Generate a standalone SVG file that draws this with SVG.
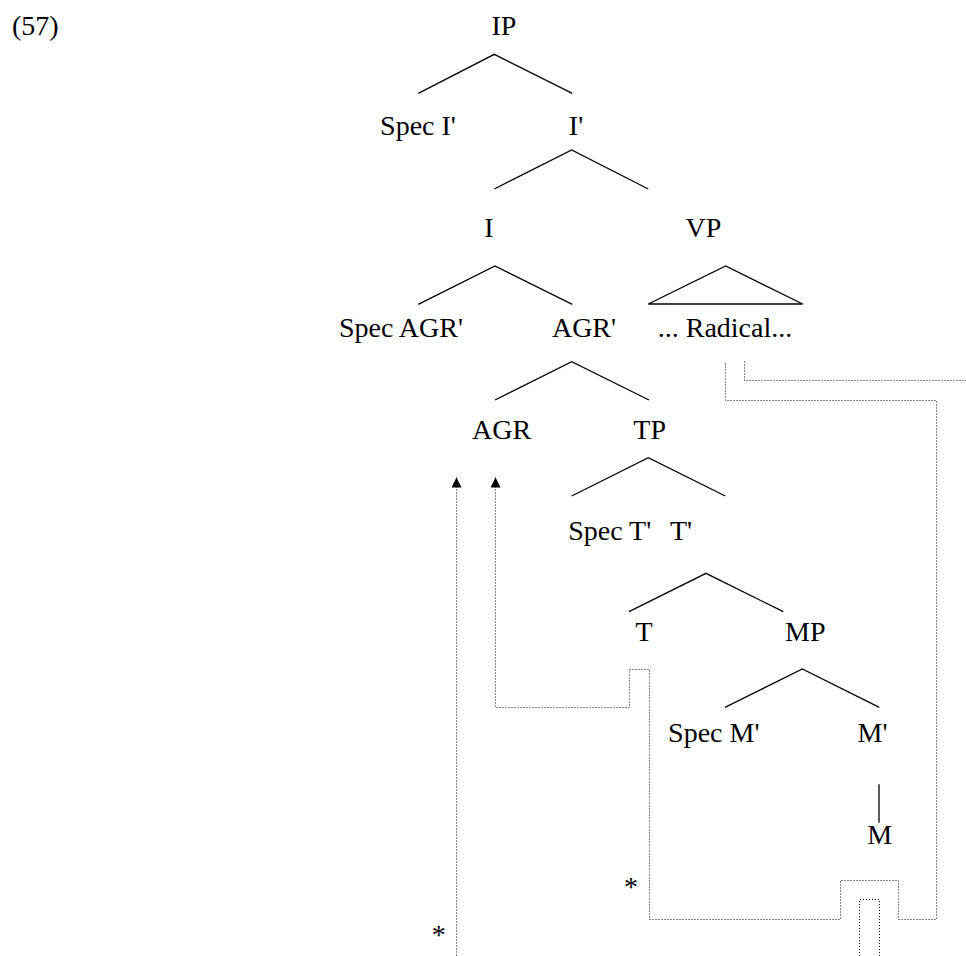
<svg xmlns="http://www.w3.org/2000/svg" width="966" height="956" viewBox="0 0 966 956">
<style>
text{font-family:'Liberation Serif','DejaVu Serif',serif;font-size:28px;fill:#000;text-anchor:middle}
.e{stroke:#000;stroke-width:1.3;fill:none}
.d{stroke:#111;stroke-width:1;fill:none;stroke-dasharray:1 2}
</style>
<defs>
<marker id="arr" viewBox="0 0 10 10" refX="10" refY="5" markerWidth="10" markerHeight="10" markerUnits="userSpaceOnUse" orient="auto-start-reverse">
<path d="M0,0 L10,5 L0,10 z" fill="#000"/>
</marker>
</defs>
<g font-family="Liberation Serif, serif">
<text x="12" y="35" style="text-anchor:start">(57)</text>
<g id="IP"><text x="504" y="35">IP</text></g>
<g id="SpecI"><text x="418" y="135">Spec I'</text></g>
<g id="Ibar"><text x="576" y="135">I'</text></g>
<g id="I"><text x="489" y="237">I</text></g>
<g id="VP"><text x="703.5" y="237">VP</text></g>
<g id="SpecAGR"><text x="401" y="337">Spec AGR'</text></g>
<g id="AGRbar"><text x="584" y="337">AGR'</text></g>
<g id="Radical"><text x="725" y="337">... Radical...</text></g>
<g id="AGR"><text x="501.5" y="438.5">AGR</text></g>
<g id="TP"><text x="649.7" y="439">TP</text></g>
<g id="SpecT"><text x="609.7" y="540">Spec T'</text></g>
<g id="Tbar"><text x="670" y="540" style="text-anchor:start">T'</text></g>
<g id="T"><text x="644" y="641">T</text></g>
<g id="MP"><text x="805.3" y="641">MP</text></g>
<g id="SpecM"><text x="713.8" y="742">Spec M'</text></g>
<g id="Mbar"><text x="872.5" y="742">M'</text></g>
<g id="M"><text x="879.7" y="844">M</text></g>
<g id="star1"><text x="438.7" y="944">*</text></g>
<g id="star2"><text x="631" y="896">*</text></g>
</g>
<g id="branches">
<path class="e" d="M418.3,93.3 L494.3,54.3 L572.3,93.3"/>
<path class="e" d="M494.3,189 L571.7,150 L648.3,189"/>
<path class="e" d="M418.3,304.3 L495,266 L572.3,304.3"/>
<path class="e" d="M648.3,304 L725.7,266 L802.7,304 Z"/>
<path class="e" d="M495,400 L571.7,361.7 L649,400"/>
<path class="e" d="M571.7,496 L648.3,457.7 L725.3,496"/>
<path class="e" d="M629,611.7 L706,573.3 L783.3,611.7"/>
<path class="e" d="M725,707.3 L802.3,669 L879.3,707.3"/>
<path class="e" d="M879,784.3 V822.7"/>
</g>
<g id="connectors">
<path class="d" marker-start="url(#arr)" d="M495.5,477.5 V707.5 H629.5 V669.5 H649.5 V919.5 H840.5 V880.5 H898.5 V919.5 H936.5 V400.5 H725.5 V361.5"/>
<path class="d" d="M744.5,361.5 V380.5 H966"/>
<path class="d" marker-start="url(#arr)" d="M456.5,477.5 V956"/>
<path class="d" d="M859.5,956 V899.5 H879.5 V956"/>
</g>
</svg>
